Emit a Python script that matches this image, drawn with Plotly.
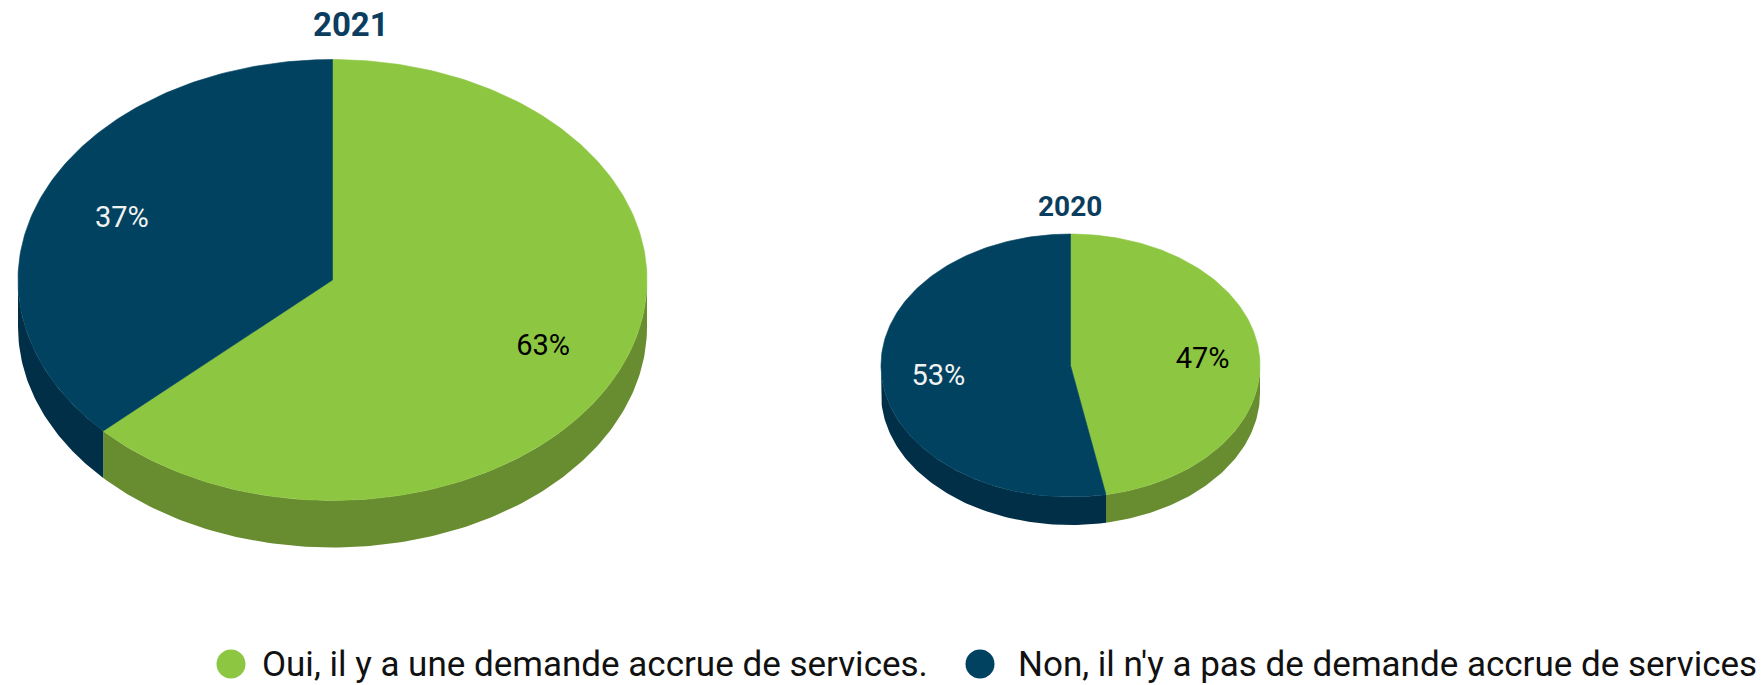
import numpy as np
import plotly.graph_objects as go

# ---- data ----
categories = ["Oui, il y a une demande accrue de services.",
              "Non, il n'y a pas de demande accrue de services"]
years = ["2021", "2020"]
values_2021 = [63, 37]
values_2020 = [47, 53]

# ---- style ----
top_colors = ["#8dc641", "#00425f"]
side_colors = ["#688c30", "#002f47"]
label_colors = ["#000000", "#f2f2f2"]
title_color = "#0b3d5e"
FONT = "Roboto"

W, H = 1764, 685
OFF = 0  # body margin removed below, so data units == screen pixels

# pie geometry (pixel units on the hidden axes)
pies = [
    dict(year="2021", values=values_2021, cx=332.5, cy=280, a=314.5, b=220.5, depth=47,
         k=0.73, title_xy=(351, 24), title_size=33),
    dict(year="2020", values=values_2020, cx=1070.5, cy=365.5, a=189.5, b=131.5, depth=28,
         k=0.70, title_xy=(1070, 206), title_size=28),
]
LABEL_DY = 3.5

# legend layout (screen pixels)
legend_y = 664
legend_marker_x = [231, 980]
legend_text_x = [260, 1016]

fig = go.Figure()


def arc(cx, cy, a, b, t0, t1, n=None):
    if n is None:
        n = max(int(abs(t1 - t0) / 1.0) + 2, 3)
    t = np.radians(np.linspace(t0, t1, n))
    return cx + a * np.sin(t), cy - b * np.cos(t)


# side walls first
for p in pies:
    tot = sum(p["values"])
    start = 0.0
    for i, v in enumerate(p["values"]):
        t0 = start / tot * 360
        t1 = (start + v) / tot * 360
        start += v
        s, e = max(t0, 90), min(t1, 270)
        if e > s:
            xs, ys = arc(p["cx"], p["cy"], p["a"], p["b"], s, e)
            px = np.concatenate([xs, xs[::-1]])
            py = np.concatenate([ys, ys[::-1] + p["depth"]])
            fig.add_trace(go.Scatter(x=px, y=py, fill="toself", mode="lines",
                                     line=dict(width=0, color=side_colors[i]),
                                     fillcolor=side_colors[i], showlegend=False,
                                     hoverinfo="skip"))

# top faces
for p in pies:
    tot = sum(p["values"])
    start = 0.0
    for i, v in enumerate(p["values"]):
        t0 = start / tot * 360
        t1 = (start + v) / tot * 360
        start += v
        xs, ys = arc(p["cx"], p["cy"], p["a"], p["b"], t0, t1)
        px = np.concatenate([[p["cx"]], xs, [p["cx"]]])
        py = np.concatenate([[p["cy"]], ys, [p["cy"]]])
        fig.add_trace(go.Scatter(x=px, y=py, fill="toself", mode="lines",
                                 line=dict(width=0.6, color=top_colors[i]),
                                 fillcolor=top_colors[i], showlegend=False,
                                 name=categories[i],
                                 text=f"{p['year']}: {v}%", hoverinfo="text"))
        tm = np.radians((t0 + t1) / 2)
        lx = p["cx"] + p["k"] * p["a"] * np.sin(tm)
        ly = p["cy"] - p["k"] * p["b"] * np.cos(tm) + LABEL_DY
        fig.add_trace(go.Scatter(x=[lx], y=[ly], mode="text", text=[f"{v}%"],
                                 textfont=dict(family=FONT, size=29, color=label_colors[i]),
                                 showlegend=False, hoverinfo="skip"))
    fig.add_annotation(x=p["title_xy"][0], y=p["title_xy"][1], text=f"<b>{p['year']}</b>",
                       showarrow=False, xref="x", yref="y", borderpad=0,
                       font=dict(family=FONT, size=p["title_size"], color=title_color))

# legend (drawn as markers + text so circles can be large)
for i, c in enumerate(categories):
    fig.add_trace(go.Scatter(x=[legend_marker_x[i]], y=[legend_y], mode="markers", name=c,
                             marker=dict(symbol="circle", size=29, color=top_colors[i]),
                             showlegend=False, hoverinfo="name"))
    fig.add_annotation(x=legend_text_x[i], y=legend_y, text=c, showarrow=False,
                       xref="x", yref="y", xanchor="left", yanchor="middle",
                       font=dict(family=FONT, size=35, color="#111111"))

fig.update_layout(
    width=W, height=H,
    margin=dict(l=0, r=0, t=0, b=0),
    paper_bgcolor="white", plot_bgcolor="white",
    xaxis=dict(range=[OFF, W + OFF], visible=False, fixedrange=True),
    yaxis=dict(range=[H + OFF, OFF], visible=False, fixedrange=True),
    showlegend=False,
)

fig.write_html("out.html", config={"displayModeBar": False},
               post_script="document.body.style.margin='0';document.body.style.overflow='hidden';")
